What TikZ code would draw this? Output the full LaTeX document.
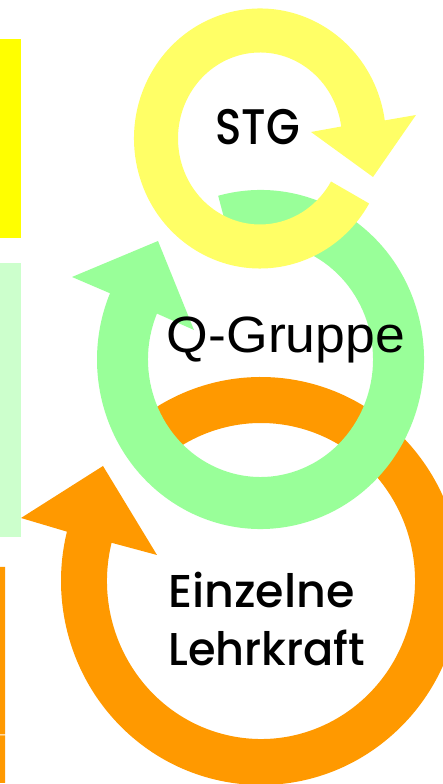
\documentclass[tikz,border=0pt]{standalone}
\usepackage{fontspec}
\setmainfont{Liberation Sans}
\newfontfamily\geofont{Poppins Medium}
\definecolor{stgyellow}{HTML}{FFFF66}
\definecolor{baryellow}{HTML}{FFFF00}
\definecolor{qgreen}{HTML}{99FF99}
\definecolor{bargreen}{HTML}{CCFFCC}
\definecolor{lkorange}{HTML}{FF9900}

\begin{document}
\begin{tikzpicture}[x=1pt, y=1pt, ringtext/.style={inner sep=0pt, text=black}]
  \useasboundingbox (0,0) rectangle (443,784);
  \clip (0,0) rectangle (443,784);
  % bars at the left edge
  \fill[baryellow] (0,546) rectangle (21,745);
  \fill[bargreen] (0,247) rectangle (21,521);
  \fill[lkorange] (0,1) rectangle (5,48.5) (0,49.5) rectangle (5,217);
  % orange ring
  \coordinate (lk) at (261,203);
  \fill[lkorange] ([shift={(lk)}]130:200 and 204) arc[start angle=130, end angle=-194, x radius=200, y radius=204]
    -- (21,266) -- (103,318) -- (157,229)
    -- ([shift={(lk)}]-194:154 and 158) arc[start angle=-194, end angle=130, x radius=154, y radius=158] -- cycle;
  % green ring
  \coordinate (qg) at (260.5,424.5);
  \fill[qgreen] ([shift={(qg)}]105:163.5 and 169.5) arc[start angle=105, end angle=-203, x radius=163.5, y radius=169.5]
    -- (72,507) -- (158,543) -- (194,454)
    -- ([shift={(qg)}]-203:112.5 and 117.5) arc[start angle=-203, end angle=105, x radius=112.5, y radius=117.5] -- cycle;
  % yellow ring
  \coordinate (st) at (260,645.5);
  \fill[stgyellow] ([shift={(st)}]-30:126 and 130) arc[start angle=-30, end angle=-352, x radius=126, y radius=130]
    -- (416,669) -- (373,607) -- (311,652)
    -- ([shift={(st)}]-352:82 and 86) arc[start angle=-352, end angle=-30, x radius=82, y radius=86] -- cycle;
  % texts
  \node[ringtext, font=\geofont\fontsize{50}{60}\selectfont, anchor=base, xscale=0.87] (stg) at (257.5,639) {STG};
  \node[ringtext, font=\fontsize{51}{61}\selectfont, anchor=base, xscale=1.05] (qgruppe) at (286,431) {Q-Gruppe};
  \node[ringtext, font=\geofont\fontsize{46}{58}\selectfont, anchor=base west] (einzelne) at (168,176) {Einzelne};
  \node[ringtext, font=\geofont\fontsize{46}{58}\selectfont, anchor=base west, xscale=0.97] (lehrkraft) at ([yshift=-58]einzelne.base west) {Lehrkraft};
\end{tikzpicture}
\end{document}
